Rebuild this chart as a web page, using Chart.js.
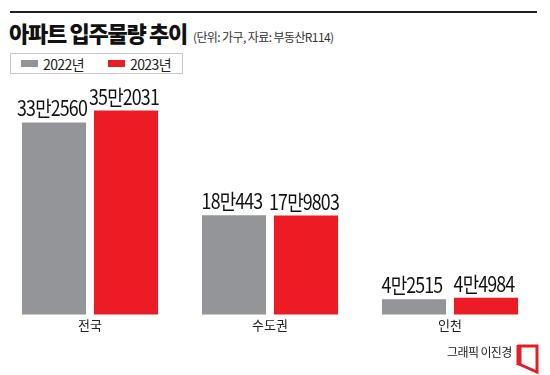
<!DOCTYPE html>
<html>
<head>
<meta charset="utf-8">
<script src="https://cdn.jsdelivr.net/npm/chart.js@4/dist/chart.umd.min.js"></script>
<style>
  html, body { margin: 0; padding: 0; background: #fff; }
  body { width: 550px; height: 375px; position: relative; overflow: hidden;
         font-family: "Noto Sans CJK KR", "Noto Sans", sans-serif; color: #222; }
  #rule { position: absolute; left: 10px; top: 11px; width: 527px; height: 2px; background: #231f20; }
  #title { position: absolute; left: 9px; top: 16px; font-size: 22px; font-weight: 900;
           letter-spacing: -1.3px; white-space: nowrap; color: #111; }
  #title span { font-size: 12px; font-weight: 400; letter-spacing: -0.6px; margin-left: 6px; color: #333; }
  #legend { position: absolute; left: 10px; top: 53px; width: 171px; height: 19px;
            border: 1px solid #c8c8c8; display: flex; align-items: center; }
  .lg { display: flex; align-items: center; font-size: 14px; letter-spacing: -0.6px; color: #222; }
  .lg i { display: inline-block; width: 17px; height: 7px; margin-right: 5px; }
  #credit { position: absolute; left: 447px; top: 343px; font-size: 12px; letter-spacing: -0.6px; color: #222; }
  #logo { position: absolute; left: 516px; top: 343px; }
  #wrap { position: absolute; left: 0; top: 0; width: 550px; height: 375px; }
</style>
</head>
<body>
<div id="rule"></div>
<div id="title">아파트 입주물량 추이<span>(단위: 가구, 자료: 부동산R114)</span></div>
<div id="legend"></div>
<div id="wrap"><canvas id="c" width="550" height="375"></canvas></div>
<div id="credit">그래픽 이진경</div>
<svg id="logo" width="24" height="32" viewBox="0 0 24 32">
  <polygon points="3,3 21,3 21,29 3,21" fill="none" stroke="#e41e26" stroke-width="3" stroke-linejoin="miter"/>
  <line x1="3" y1="2" x2="3" y2="22" stroke="#e41e26" stroke-width="5"/>
</svg>
<script>
const categories = ["전국", "수도권", "인천"];
const seriesNames = ["2022년", "2023년"];
const values2022 = [332560, 180443, 42515];
const values2023 = [352031, 179803, 44984];
const seriesColors = ["#939598", "#ed1c24"];

// legend built from series
const legendEl = document.getElementById('legend');
seriesNames.forEach((n, i) => {
  const d = document.createElement('div');
  d.className = 'lg';
  d.style.marginLeft = i === 0 ? '10px' : '24px';
  d.innerHTML = '<i style="background:' + seriesColors[i] + '"></i>' + n;
  legendEl.appendChild(d);
});

function fmt(v) {
  const man = Math.floor(v / 10000);
  const rest = v % 10000;
  return man + '만' + rest;
}

const valueLabels = {
  id: 'valueLabels',
  afterDatasetsDraw(chart) {
    const ctx = chart.ctx;
    chart.data.datasets.forEach((ds, di) => {
      const meta = chart.getDatasetMeta(di);
      meta.data.forEach((bar, i) => {
        ctx.save();
        ctx.font = '21px "Noto Sans CJK KR", sans-serif';
        ctx.fillStyle = '#111';
        ctx.textAlign = 'center';
        ctx.textBaseline = 'alphabetic';
        try { ctx.letterSpacing = '-1px'; } catch (e) {}
        ctx.translate(bar.x - 2, bar.y - 6);
        ctx.scale(0.85, 1);
        ctx.fillText(fmt(ds.data[i]), 0, 0);
        ctx.restore();
      });
    });
  }
};

new Chart(document.getElementById('c'), {
  type: 'bar',
  data: {
    labels: categories,
    datasets: [
      { label: seriesNames[0], data: values2022, backgroundColor: seriesColors[0] },
      { label: seriesNames[1], data: values2023, backgroundColor: seriesColors[1] }
    ]
  },
  options: {
    responsive: false,
    animation: false,
    layout: { padding: { left: 0, right: 10, top: 82, bottom: 39 } },
    datasets: { bar: { categoryPercentage: 0.8, barPercentage: 0.89 } },
    plugins: { legend: { display: false }, tooltip: { enabled: false } },
    scales: {
      x: {
        grid: { display: false, drawTicks: false },
        border: { display: false },
        ticks: { color: '#222', padding: 3, font: { size: 13, family: '"Noto Sans CJK KR", sans-serif' } }
      },
      y: {
        display: false,
        beginAtZero: false,
        min: 17500,
        max: 399000
      }
    }
  },
  plugins: [valueLabels]
});
</script>
</body>
</html>
